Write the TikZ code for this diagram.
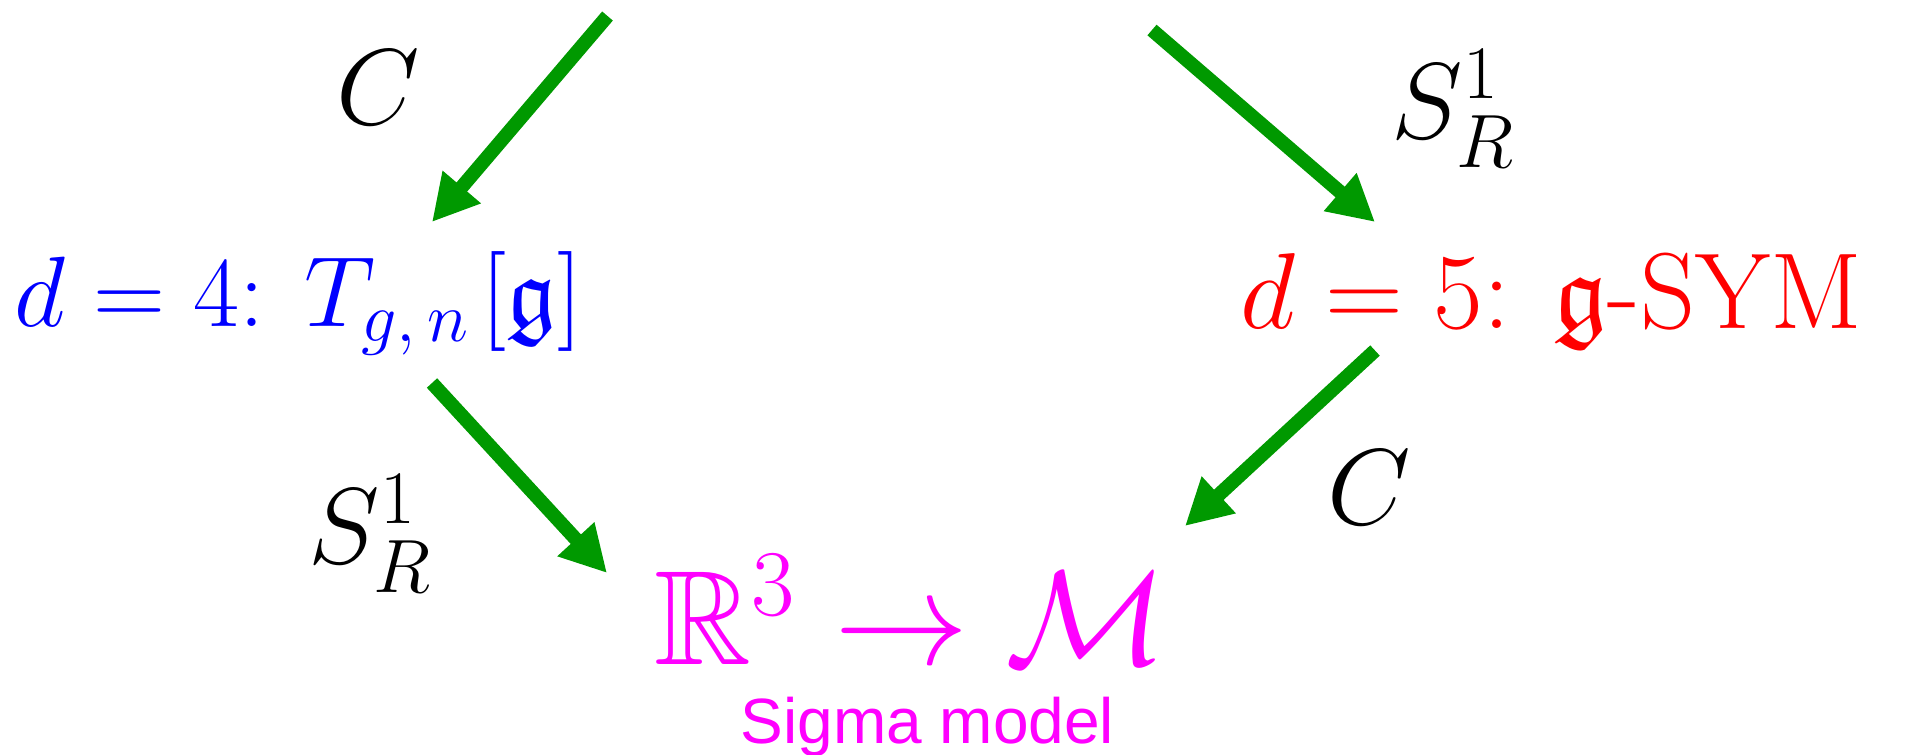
\RequirePackage{fix-cm}
\documentclass[tikz,border=0pt]{standalone}
\usepackage{fontspec}
\usepackage{amsmath,amssymb}
\usetikzlibrary{arrows.meta}
\newfontfamily\sigmafont{Liberation Sans}
\definecolor{arrowgreen}{RGB}{0,153,0}
\definecolor{sigmapink}{RGB}{255,0,255}

\begin{document}
\begin{tikzpicture}[x=0.25pt,y=-0.25pt,
    mapto/.style={draw=arrowgreen,line width=3.5pt,-{Triangle[length=11.5pt,width=11.75pt]}},
    dimlabel/.style={anchor=base west,inner sep=0pt},
    maplabel/.style={anchor=base west,inner sep=0pt,font=\fontsize{27}{32}\selectfont}]

    \useasboundingbox (0,0) rectangle (1908,754);

    \node[dimlabel,text=blue,font=\fontsize{25}{30}\selectfont] (fourd) at (14,326) {$d=4$: $T_{g,\,n}\mkern2mu[\mathfrak{g}]$};
    \node[dimlabel,text=red,font=\fontsize{27}{32}\selectfont] (fived) at (1240,328) {$d=5$: $\mathfrak{g}$-SYM};
    \node[dimlabel,text=sigmapink,font=\fontsize{33.6}{39}\selectfont] (sigma) at (654,664) {$\mathbb{R}^3\to\mathcal{M}$};
    \node[dimlabel,text=sigmapink,font=\sigmafont\fontsize{16}{19}\selectfont] (sigmaname) at (740,743) {Sigma model};

    \node[maplabel] (cupper) at (336,124) {$C$};
    \node[maplabel] (supper) at (1391,138) {$S^1_R$};
    \node[maplabel] (slower) at (308,563) {$S^1_R$};
    \node[maplabel] (clower) at (1327,524) {$C$};

    \coordinate (topleft) at (607.5,16);
    \coordinate (topright) at (1152,30);
    \coordinate (intofour) at (432,222);
    \coordinate (intofive) at (1375,222);
    \coordinate (outfour) at (432,383);
    \coordinate (outfive) at (1375,350.5);
    \coordinate (intosigmal) at (607,573);
    \coordinate (intosigmar) at (1185,526);

    \draw[mapto] (topleft) -- (intofour);
    \draw[mapto] (topright) -- (intofive);
    \draw[mapto] (outfour) -- (intosigmal);
    \draw[mapto] (outfive) -- (intosigmar);

\end{tikzpicture}
\end{document}
